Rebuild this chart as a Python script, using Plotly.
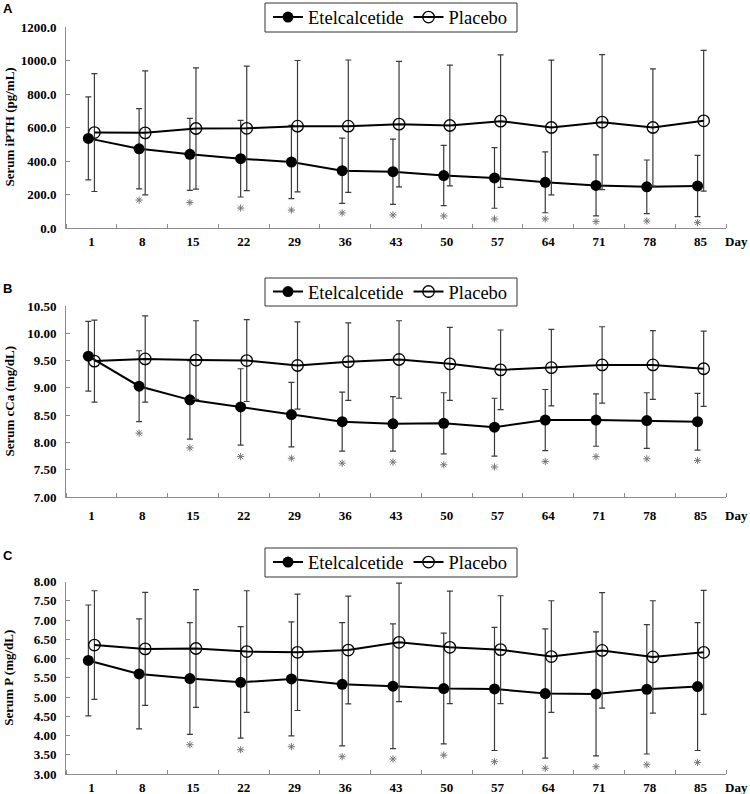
import plotly.graph_objects as go

# ── data ─────────────────────────────────────────────────────────────
DAYS = ['1', '8', '15', '22', '29', '36', '43', '50', '57', '64', '71', '78', '85']

IPTH_ETEL = [535, 473, 440, 414, 394, 342, 336, 313, 299, 273, 254, 246, 251]
IPTH_ETEL_SD = [248, 240, 215, 229, 219, 195, 195, 180, 181, 182, 182, 160, 183]
IPTH_PBO = [570, 568, 594, 595, 608, 608, 620, 612, 638, 600, 632, 600, 640]
IPTH_PBO_SD = [352, 370, 362, 372, 392, 395, 375, 360, 395, 402, 403, 350, 420]
IPTH_STAR = [None, 167, 152, 119, 107, 90, 78, 72, 54, 54, 38, 42, 32]

CA_ETEL = [9.58, 9.03, 8.78, 8.65, 8.51, 8.38, 8.34, 8.35, 8.28, 8.41, 8.41, 8.40, 8.38]
CA_ETEL_SD = [0.64, 0.65, 0.72, 0.70, 0.59, 0.54, 0.50, 0.56, 0.53, 0.56, 0.48, 0.51, 0.52]
CA_PBO = [9.49, 9.53, 9.51, 9.50, 9.41, 9.48, 9.52, 9.44, 9.33, 9.37, 9.42, 9.42, 9.35]
CA_PBO_SD = [0.75, 0.79, 0.72, 0.75, 0.80, 0.71, 0.71, 0.67, 0.73, 0.70, 0.70, 0.63, 0.69]
CA_STAR = [None, 8.17, 7.90, 7.74, 7.71, 7.62, 7.64, 7.59, 7.55, 7.65, 7.74, 7.70, 7.67]

P_ETEL = [5.95, 5.60, 5.48, 5.38, 5.47, 5.33, 5.28, 5.22, 5.21, 5.09, 5.08, 5.20, 5.27]
P_ETEL_SD = [1.44, 1.43, 1.45, 1.45, 1.48, 1.60, 1.62, 1.44, 1.60, 1.68, 1.61, 1.68, 1.66]
P_PBO = [6.35, 6.25, 6.26, 6.18, 6.16, 6.22, 6.42, 6.29, 6.23, 6.05, 6.21, 6.04, 6.16]
P_PBO_SD = [1.41, 1.47, 1.53, 1.58, 1.51, 1.40, 1.54, 1.46, 1.40, 1.45, 1.50, 1.46, 1.61]
P_STAR = [None, None, 3.76, 3.63, 3.71, 3.45, 3.39, 3.49, 3.32, 3.15, 3.19, 3.24, 3.30]

# ── settings ─────────────────────────────────────────────────────────
W, H = 750, 794
SERIF = 'Liberation Serif'
SANS = 'Liberation Sans'
AXIS_GREY = '#8c8c8c'
ERR_GREY = '#3a3a3a'
STAR_GREY = '#777777'
PLOT_L, PLOT_R = 66, 726
LEG_L, LEG_R = 265, 517
OFFSET = 0.06

PANELS = [
    dict(tag='A', etel=IPTH_ETEL, etel_sd=IPTH_ETEL_SD, pbo=IPTH_PBO, pbo_sd=IPTH_PBO_SD, star=IPTH_STAR,
         yrange=[0, 1200], dtick=200, fmt='.1f', title='Serum iPTH (pg/mL)',
         top=27, bottom=228, legend_box=(3, 32), label_top=-1, tick_gap=1),
    dict(tag='B', etel=CA_ETEL, etel_sd=CA_ETEL_SD, pbo=CA_PBO, pbo_sd=CA_PBO_SD, star=CA_STAR,
         yrange=[7, 10.5], dtick=0.5, fmt='.2f', title='Serum cCa (mg/dL)',
         top=306, bottom=497, legend_box=(278, 306), label_top=279, tick_gap=6),
    dict(tag='C', etel=P_ETEL, etel_sd=P_ETEL_SD, pbo=P_PBO, pbo_sd=P_PBO_SD, star=P_STAR,
         yrange=[3, 8], dtick=0.5, fmt='.2f', title='Serum P (mg/dL)',
         top=581.5, bottom=774, legend_box=(548, 577), label_top=546, tick_gap=1),
]


def px_x(x):
    return x / W


def px_y(y):
    return 1 - y / H


fig = go.Figure()
centers = [i + 0.5 for i in range(len(DAYS))]
annotations = []
shapes = []

for k, p in enumerate(PANELS, start=1):
    sfx = '' if k == 1 else str(k)
    xa, ya = 'x' + sfx, 'y' + sfx
    leg = 'legend' + sfx

    x_etel = [c - OFFSET for c in centers]
    x_pbo = [c + OFFSET for c in centers]

    fig.add_trace(go.Scatter(
        x=x_etel, y=p['etel'], xaxis=xa, yaxis=ya, legend=leg,
        name='Etelcalcetide', mode='lines+markers',
        line=dict(color='black', width=2),
        marker=dict(symbol='circle', size=11, color='black'),
        error_y=dict(type='data', array=p['etel_sd'], color=ERR_GREY, thickness=1.2, width=3),
    ))
    fig.add_trace(go.Scatter(
        x=x_pbo, y=p['pbo'], xaxis=xa, yaxis=ya, legend=leg,
        name='Placebo', mode='lines+markers',
        line=dict(color='black', width=2),
        marker=dict(symbol='circle-open', size=11.5, color='black', line=dict(width=1.3)),
        error_y=dict(type='data', array=p['pbo_sd'], color=ERR_GREY, thickness=1.2, width=3),
    ))
    # significance stars
    fig.add_trace(go.Scatter(
        x=x_etel, y=p['star'], xaxis=xa, yaxis=ya, showlegend=False,
        mode='markers', marker=dict(symbol='asterisk-open', size=6, color=STAR_GREY,
                                    line=dict(width=1, color=STAR_GREY)),
        hoverinfo='skip',
    ))

    dom_y = [px_y(p['bottom']), px_y(p['top'])]
    box_top, box_bot = p['legend_box']
    box_mid = (box_top + box_bot) / 2
    fig.update_layout({
        'xaxis' + sfx: dict(
            domain=[px_x(PLOT_L), px_x(PLOT_R)], range=[0, len(DAYS)], anchor=ya,
            tickvals=centers, ticktext=DAYS, ticks='',
            showline=True, linecolor=AXIS_GREY, linewidth=1, showgrid=False, zeroline=False,
            tickfont=dict(family=SERIF, size=13, color='black', weight='bold'),
            ticklabelstandoff=p['tick_gap'],
            minor=dict(tickvals=list(range(len(DAYS) + 1)), ticks='inside', ticklen=4,
                       tickcolor=AXIS_GREY, showgrid=False),
        ),
        'yaxis' + sfx: dict(
            domain=dom_y, range=p['yrange'], dtick=p['dtick'], tickformat=p['fmt'], anchor=xa,
            ticks='inside', ticklen=4, tickcolor=AXIS_GREY,
            showline=True, linecolor=AXIS_GREY, linewidth=1, showgrid=False, zeroline=False,
            tickfont=dict(family=SERIF, size=13, color='black', weight='bold'),
            ticklabelstandoff=6,
        ),
        leg: dict(
            orientation='h', x=px_x(LEG_L + 3), xanchor='left', y=px_y(box_mid), yanchor='middle',
            borderwidth=0, bgcolor='rgba(0,0,0,0)',
            font=dict(family=SERIF, size=18.5, color='black'),
            itemclick=False, itemdoubleclick=False,
        ),
    })

    # legend frame
    shapes.append(dict(
        type='rect', xref='paper', yref='paper',
        x0=px_x(LEG_L), x1=px_x(LEG_R), y0=px_y(box_bot), y1=px_y(box_top),
        line=dict(color='#333333', width=1), fillcolor='white', layer='below',
    ))
    # y-axis title
    annotations.append(dict(
        text='<b>' + p['title'] + '</b>', textangle=-90, xref='paper', yref='paper',
        x=px_x(9), y=px_y((p['top'] + p['bottom']) / 2), xanchor='center', yanchor='middle',
        showarrow=False, font=dict(family=SERIF, size=13, color='black'),
    ))
    # panel letter
    annotations.append(dict(
        text='<b>' + p['tag'] + '</b>', xref='paper', yref='paper',
        x=px_x(1), y=px_y(p['label_top']), xanchor='left', yanchor='top',
        showarrow=False, font=dict(family=SANS, size=13, color='black'),
    ))
    # "Day" at the end of the x axis
    annotations.append(dict(
        text='<b>Day</b>', xref='paper', yref='paper',
        x=1.0, y=px_y(p['bottom'] + 12 + p['tick_gap']), xanchor='right', yanchor='middle',
        showarrow=False, font=dict(family=SERIF, size=13, color='black'),
    ))

fig.update_layout(
    width=W, height=H,
    margin=dict(l=0, r=0, t=0, b=0, autoexpand=False),
    paper_bgcolor='white', plot_bgcolor='white',
    annotations=annotations,
    shapes=shapes,
    showlegend=True,
)

# the page body has a default 8px margin; drop it so the figure fills the window
fig.write_html('out.html', config={'displayModeBar': False},
               post_script="document.body.style.margin='0';")
